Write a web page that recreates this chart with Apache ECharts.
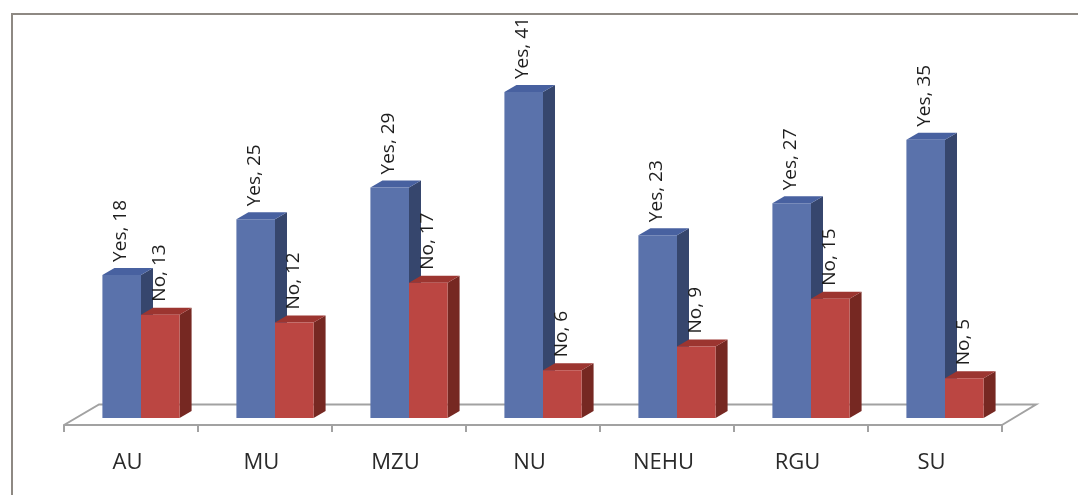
<!DOCTYPE html>
<html>
<head>
<meta charset="utf-8">
<style>
  html, body { margin: 0; padding: 0; background: #ffffff; }
  #chart { width: 1078px; height: 495px; }
</style>
<script src="https://cdn.jsdelivr.net/npm/echarts@6/dist/echarts.min.js"></script>
</head>
<body>
<div id="chart"></div>
<script>
// Survey responses per university
const categories = ['AU', 'MU', 'MZU', 'NU', 'NEHU', 'RGU', 'SU'];
const yesValues = [18, 25, 29, 41, 23, 27, 35];
const noValues = [13, 12, 17, 6, 9, 15, 5];
const seriesNames = ['Yes', 'No'];

// Pseudo-3D look: bar depth offset and floor depth offset (pixels)
const BAR_DX = 12, BAR_DY = 7;
const SET_X = 10, SET_Y = 7;          // bars stand part-way into the floor
const FLOOR_DX = 35, FLOOR_DY = 20.5;

const palettes = [
  { front: '#5A72AB', side: '#36466D', top: '#4861A0' },
  { front: '#BB4642', side: '#762822', top: '#9C3530' }
];

const FONT = '"Open Sans", "Noto Sans", sans-serif';

function barRenderer(seriesIndex, values) {
  return function (params, api) {
    const idx = api.value(0);
    const val = values[idx];
    const base = api.coord([idx, 0]);
    const topPt = api.coord([idx, val]);
    const band = api.size([1, 0])[0];
    const bw = band * 0.288;
    const x0 = base[0] + SET_X + (seriesIndex === 0 ? -bw : 0);
    const x1 = x0 + bw;
    const yb = base[1] - SET_Y;
    const yt = topPt[1] - SET_Y;
    const c = palettes[seriesIndex];
    return {
      type: 'group',
      children: [
        {
          type: 'polygon',
          shape: { points: [[x1, yb], [x1, yt], [x1 + BAR_DX, yt - BAR_DY], [x1 + BAR_DX, yb - BAR_DY]] },
          style: { fill: c.side }
        },
        {
          type: 'polygon',
          shape: { points: [[x0, yt], [x1, yt], [x1 + BAR_DX, yt - BAR_DY], [x0 + BAR_DX, yt - BAR_DY]] },
          style: { fill: c.top }
        },
        {
          type: 'rect',
          shape: { x: x0, y: yt, width: bw, height: yb - yt },
          style: { fill: c.front }
        },
        {
          type: 'text',
          x: x0 + bw / 2 - 1,
          y: yt - BAR_DY - 6,
          rotation: Math.PI / 2,
          style: {
            text: seriesNames[seriesIndex] + ', ' + val,
            fontSize: 19,
            fontFamily: FONT,
            fill: '#1E1E1E',
            align: 'left',
            verticalAlign: 'middle'
          }
        }
      ]
    };
  };
}

function floorRenderer(params) {
  const cs = params.coordSys;
  const fx = cs.x, fy = cs.y + cs.height, fw = cs.width;
  return {
    type: 'polyline',
    shape: {
      points: [
        [fx, fy],
        [fx + FLOOR_DX, fy - FLOOR_DY],
        [fx + fw + FLOOR_DX - 1, fy - FLOOR_DY],
        [fx + fw, fy]
      ]
    },
    style: { stroke: '#A2A2A2', lineWidth: 2, fill: null }
  };
}

const chart = echarts.init(document.getElementById('chart'), null, { renderer: 'canvas' });

chart.setOption({
  backgroundColor: '#ffffff',
  animation: false,
  graphic: [
    {
      type: 'rect',
      shape: { x: 12, y: 14, width: 1100, height: 600 },
      style: { fill: null, stroke: '#8E8983', lineWidth: 2 },
      z: -10
    }
  ],
  grid: { left: 64, right: 76, top: 27.5, bottom: 70, containLabel: false },
  xAxis: {
    type: 'category',
    data: categories,
    boundaryGap: true,
    axisLine: { show: true, lineStyle: { color: '#A2A2A2', width: 2 } },
    axisTick: { show: true, length: 7, lineStyle: { color: '#A2A2A2', width: 2 } },
    axisLabel: {
      margin: 27,
      fontSize: 22,
      fontFamily: FONT,
      color: '#2A2A2A',
      padding: [0, 7, 0, 0]
    },
    splitLine: { show: false }
  },
  yAxis: {
    type: 'value',
    min: 0,
    max: 50,
    show: false
  },
  series: [
    {
      name: 'floor',
      type: 'custom',
      data: [[0]],
      renderItem: floorRenderer,
      silent: true,
      z: 1
    },
    {
      name: seriesNames[0],
      type: 'custom',
      data: categories.map((c, i) => [i, yesValues[i]]),
      renderItem: barRenderer(0, yesValues),
      z: 2
    },
    {
      name: seriesNames[1],
      type: 'custom',
      data: categories.map((c, i) => [i, noValues[i]]),
      renderItem: barRenderer(1, noValues),
      z: 3
    }
  ]
});
</script>
</body>
</html>
